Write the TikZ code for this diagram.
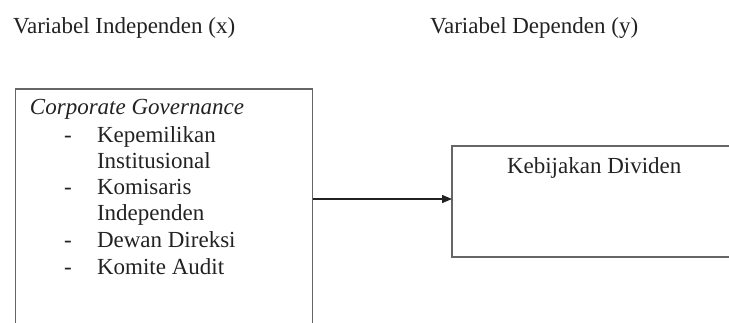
\documentclass[tikz,border=0pt]{standalone}
\usepackage{fontspec}
\setmainfont{Liberation Serif}
\usetikzlibrary{arrows.meta}
\definecolor{ink}{HTML}{222222}
\definecolor{frame}{HTML}{666666}
\begin{document}
\begin{tikzpicture}[x=1pt,y=-1pt,
  every node/.style={inner sep=0pt, outer sep=0pt, text=ink,
    font=\fontsize{23}{27.6}\selectfont},
  txt/.style={anchor=base west},
  varbox/.style={draw=frame, line width=1.6pt, rectangle, anchor=north west},
  link/.style={draw=ink, line width=1.3pt, -{Triangle[length=10pt,width=8pt]}}]
  \useasboundingbox (0,0) rectangle (729,322);
  \clip (0,0) rectangle (729,322);
  % column headings
  \node[txt] (hx) at (13,33) {Variabel Independen (x)};
  \node[txt] (hy) at (430,33) {Variabel Dependen (y)};
  % independent variable box
  \node[varbox, minimum width=297pt, minimum height=260pt] (cg) at (15.5,89) {};
  \node[txt] (cgt) at (30,114) {\itshape Corporate Governance};
  \node[txt] (d1) at (64,142) {-};
  \node[txt] (i1a) at (97,142) {Kepemilikan};
  \node[txt] (i1b) at (97,168) {Institusional};
  \node[txt] (d2) at (64,194) {-};
  \node[txt] (i2a) at (97,194) {Komisaris};
  \node[txt] (i2b) at (97,220) {Independen};
  \node[txt] (d3) at (64,247) {-};
  \node[txt] (i3) at (97,247) {Dewan Direksi};
  \node[txt] (d4) at (64,274) {-};
  \node[txt] (i4) at (97,274) {Komite Audit};
  % dependent variable box
  \node[varbox, minimum width=290pt, minimum height=111pt] (kd) at (452,146) {};
  \node[txt] (kdt) at (507,173) {Kebijakan Dividen};
  % relationship
  \draw[link] (cg.east |- 0,199) -- (kd.west |- 0,199);
\end{tikzpicture}
\end{document}
